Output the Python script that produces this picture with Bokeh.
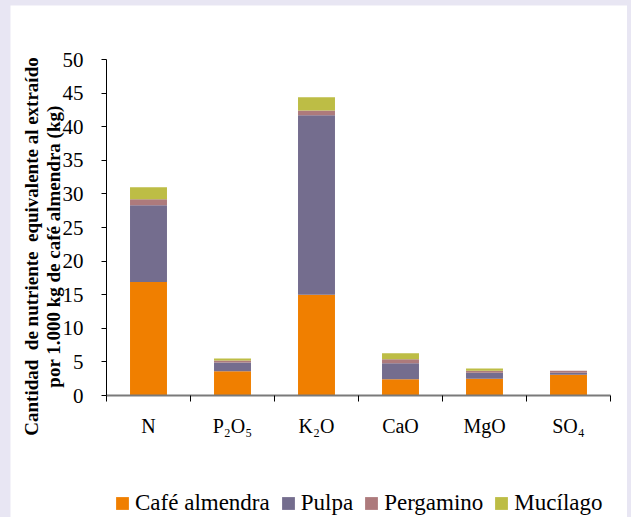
import math
from bokeh.plotting import figure
from bokeh.core.properties import value
from bokeh.models import (FixedTicker, Legend, LegendItem, ColumnDataSource, Range1d,
                          LinearAxis)
from bokeh.embed import file_html
from bokeh.resources import INLINE

categories = ["N", "P₂O₅", "K₂O", "CaO", "MgO", "SO₄"]
series = ["Café almendra", "Pulpa", "Pergamino", "Mucílago"]
cafe = [16.9, 3.6, 15.0, 2.4, 2.5, 3.1]
pulpa = [11.4, 1.3, 26.7, 2.4, 0.9, 0.3]
pergamino = [0.9, 0.3, 0.7, 0.6, 0.3, 0.3]
mucilago = [1.8, 0.3, 2.0, 0.9, 0.3, 0.0]
colors = ["#F07F00", "#746D8E", "#AD7A7C", "#BDBD45"]
y_ticks = list(range(0, 51, 5))
y_max = 50

NB = "\u00a0"
y_title = ["Cantidad " + NB + "de nutriente " + NB + "equivalente al extraído",
           "por 1.000 kg de café almendra (kg)"]

FONT = "Liberation Serif"

# layout (pixels)
W, H = 617, 512
LEFT, RIGHT, TOP, BOTTOM = 96, 17, 54, 122

n = len(categories)
px_x = (W - LEFT - RIGHT) / n
px_y = (H - TOP - BOTTOM) / y_max
x_range = Range1d(-LEFT / px_x, n + RIGHT / px_x)
y_range = Range1d(-BOTTOM / px_y, y_max + TOP / px_y)

centers = [i + 0.5 for i in range(n)]
bounds = list(range(n + 1))
source = ColumnDataSource(dict(x=centers, **{
    series[0]: cafe, series[1]: pulpa, series[2]: pergamino, series[3]: mucilago}))

p = figure(width=W, height=H, output_backend="svg", toolbar_location=None,
           x_range=x_range, y_range=y_range,
           x_axis_location=None, y_axis_location=None, min_border=0)
p.min_border_left = 0
p.min_border_right = 0
p.min_border_top = 0
p.min_border_bottom = 0
p.background_fill_color = "white"
p.border_fill_color = "white"
p.outline_line_color = None
p.xgrid.visible = False
p.ygrid.visible = False

renderers = p.vbar_stack(series, x="x", width=0.44, color=colors, source=source,
                         line_color=None)

# y axis
ya = LinearAxis(fixed_location=0, bounds=(0, y_max))
ya.ticker = FixedTicker(ticks=y_ticks)
ya.major_label_text_font = FONT
ya.major_label_text_font_size = "21px"
ya.major_label_text_color = "black"
ya.major_label_standoff = 18
ya.major_tick_out = 5
ya.major_tick_in = 0
ya.minor_tick_out = 0
ya.minor_tick_in = 0
ya.axis_line_color = "black"
ya.major_tick_line_color = "black"
p.add_layout(ya, "left")

# x axis
xa = LinearAxis(fixed_location=0, bounds=(0, n))
xa.ticker = FixedTicker(ticks=centers, minor_ticks=bounds)
xa.major_label_overrides = {c: lab for c, lab in zip(centers, categories)}
xa.major_label_text_font = FONT
xa.major_label_text_font_size = "20px"
xa.major_label_text_color = "black"
xa.major_label_standoff = 13
xa.major_tick_out = 0
xa.major_tick_in = 0
xa.minor_tick_out = 6
xa.minor_tick_in = 0
xa.minor_tick_line_color = "black"
xa.axis_line_color = "#7a7a7a"
xa.axis_line_width = 2
p.add_layout(xa, "below")

# y axis title (two lines), placed in the left margin
title_px_x = [21, 43]          # screen x of each line centre
title_px_y = 241               # screen y (from top) of the title centre
p.text(x=[(sx - LEFT) / px_x for sx in title_px_x],
       y=[(H - BOTTOM - title_px_y) / px_y] * len(y_title),
       text=y_title, angle=math.pi / 2, text_align="center", text_baseline="middle",
       text_font=value(FONT), text_font_style="bold", text_font_size="19px",
       text_color="black")

legend = Legend(items=[LegendItem(label=s, renderers=[r]) for s, r in zip(series, renderers)],
                orientation="horizontal", location=(104, 1))
legend.label_text_font = "'Liberation Serif'"
legend.label_text_font_size = "23px"
legend.label_text_color = "black"
legend.glyph_width = 16
legend.glyph_height = 16
legend.label_height = 16
legend.label_standoff = 5
legend.spacing = 10
legend.padding = 0
legend.margin = 0
legend.border_line_color = None
legend.background_fill_alpha = 0
p.add_layout(legend, "center")

html = file_html(p, INLINE)
html = html.replace("</head>",
                    "<style>html,body{background:#E8E6F3 !important;}"
                    "body{padding:5px 0 0 10px !important;margin:0 !important;}</style></head>", 1)
open("out.html", "w").write(html)
